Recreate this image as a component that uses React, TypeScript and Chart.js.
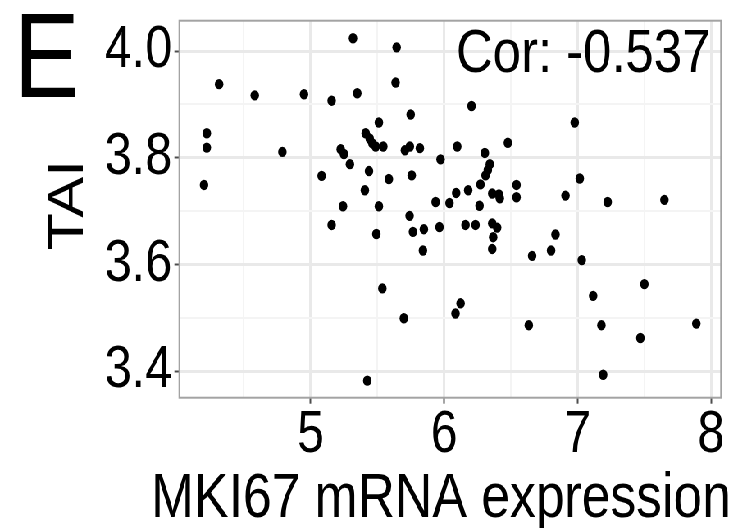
import React, { useEffect, useRef } from 'react';
import { Chart, registerables } from 'chart.js';

Chart.register(...registerables);

// The reference is horizontally condensed; draw wide, then squeeze with CSS.
const SX = 0.82;
const CW = Math.round(747 / SX);
const CH = 528;

const mki67: number[] = [
  5.317, 5.644, 4.314, 4.581, 4.950, 5.157, 5.349, 5.636, 5.749, 5.511,
  4.222, 4.222, 4.201, 4.788, 5.412, 5.442, 5.462, 5.487, 5.544, 5.225,
  5.249, 5.294, 5.706, 5.743, 5.818, 5.973, 5.082, 5.437, 5.586, 5.757,
  5.406, 5.242, 5.511, 5.936, 6.040, 5.157, 5.492, 5.741, 5.766, 5.848,
  5.965, 5.841, 5.537, 5.698, 5.424, 6.205, 6.978, 6.098, 6.305, 6.477,
  6.342, 6.327, 6.310, 7.016, 6.272, 6.542, 6.542, 6.180, 6.090, 6.360,
  6.410, 6.417, 6.909, 7.225, 7.650, 6.265, 6.160, 6.235, 6.360, 6.397,
  6.367, 6.360, 6.834, 6.801, 6.659, 7.031, 7.500, 7.116, 6.123, 6.085,
  6.634, 7.178, 7.889, 7.470, 7.191,
];

const tai: number[] = [
  4.024, 4.007, 3.938, 3.917, 3.919, 3.907, 3.921, 3.941, 3.881, 3.866,
  3.846, 3.819, 3.749, 3.811, 3.846, 3.836, 3.827, 3.821, 3.821, 3.816,
  3.807, 3.788, 3.814, 3.821, 3.818, 3.797, 3.766, 3.775, 3.760, 3.767,
  3.739, 3.709, 3.709, 3.717, 3.715, 3.674, 3.657, 3.691, 3.661, 3.666,
  3.670, 3.626, 3.555, 3.499, 3.382, 3.897, 3.866, 3.821, 3.809, 3.828,
  3.788, 3.777, 3.767, 3.761, 3.750, 3.749, 3.726, 3.739, 3.734, 3.733,
  3.731, 3.724, 3.729, 3.717, 3.721, 3.710, 3.674, 3.674, 3.677, 3.669,
  3.651, 3.629, 3.656, 3.626, 3.616, 3.608, 3.563, 3.541, 3.527, 3.508,
  3.486, 3.486, 3.489, 3.462, 3.393,
];

const xMajor: number[] = [5, 6, 7, 8];
const xMinor: number[] = [4.5, 5.5, 6.5, 7.5];
const yMajor: number[] = [3.4, 3.6, 3.8, 4.0];
const yMinor: number[] = [3.5, 3.7, 3.9];

const panelLabel = 'E';
const corLabel = 'Cor: -0.537';
const xTitle = 'MKI67 mRNA expression';
const yTitle = 'TAI';

const FONT = '"Liberation Sans", Arial, Helvetica, sans-serif';
const isIn = (arr: number[], v: number) => arr.some((a) => Math.abs(a - v) < 1e-6);

const annotPlugin = {
  id: 'annot',
  afterDatasetsDraw(chart: any) {
    const { ctx, chartArea: a } = chart;
    ctx.save();
    ctx.strokeStyle = '#a3a3a3';
    ctx.lineWidth = 2;
    ctx.strokeRect(a.left, a.top, a.right - a.left, a.bottom - a.top);
    ctx.restore();
  },
  afterDraw(chart: any) {
    const { ctx, chartArea: a } = chart;
    ctx.save();
    ctx.fillStyle = '#000';
    ctx.textBaseline = 'alphabetic';
    // panel letter
    ctx.font = `120px ${FONT}`;
    ctx.textAlign = 'left';
    ctx.fillText(panelLabel, 17, 96.7);
    // correlation annotation
    ctx.font = `62px ${FONT}`;
    ctx.textAlign = 'right';
    ctx.fillText(corLabel, a.right - 13, a.top + 51.5);
    // x axis title
    ctx.font = `63px ${FONT}`;
    ctx.textAlign = 'center';
    ctx.fillText(xTitle, 441 / SX, 517);
    // y axis title
    ctx.translate(69 / SX, 205);
    ctx.rotate(-Math.PI / 2);
    ctx.font = `61px ${FONT}`;
    ctx.textAlign = 'center';
    ctx.textBaseline = 'middle';
    ctx.fillText(yTitle, 0, 0);
    ctx.restore();
  },
};

export default function App() {
  const ref = useRef<HTMLCanvasElement | null>(null);

  useEffect(() => {
    if (!ref.current) return;
    const points = mki67.map((x, i) => ({ x, y: tai[i] }));
    const chart = new Chart(ref.current, {
      type: 'scatter',
      data: {
        datasets: [
          {
            data: points,
            pointRadius: 5.2,
            pointHoverRadius: 5.2,
            pointBackgroundColor: '#000',
            pointBorderColor: '#000',
            pointBorderWidth: 0,
          },
        ],
      },
      options: {
        animation: false,
        responsive: false,
        maintainAspectRatio: false,
        layout: { padding: { left: 0, top: 20.7, right: 31.7, bottom: 0 } },
        plugins: {
          legend: { display: false },
          tooltip: { enabled: false },
        },
        scales: {
          x: {
            type: 'linear',
            min: 4.016,
            max: 8.074,
            afterBuildTicks: (scale: any) => {
              scale.ticks = [...xMinor, ...xMajor]
                .sort((p, q) => p - q)
                .map((v) => ({ value: v }));
            },
            afterFit: (scale: any) => {
              scale.height = CH - 397.7;
              scale.paddingLeft = 0;
              scale.paddingRight = 0;
            },
            ticks: {
              autoSkip: false,
              maxRotation: 0,
              minRotation: 0,
              padding: 3,
              color: '#000',
              font: { family: FONT, size: 59, lineHeight: 1 },
              callback: (v: any) => (isIn(xMajor, Number(v)) ? String(v) : ''),
            },
            grid: {
              color: (c: any) => (isIn(xMajor, c.tick?.value) ? '#e9e9e9' : '#f4f4f4'),
              lineWidth: (c: any) => (isIn(xMajor, c.tick?.value) ? 3 : 2),
              tickColor: (c: any) => (isIn(xMajor, c.tick?.value) ? '#4d4d4d' : 'rgba(0,0,0,0)'),
              tickWidth: 2,
              tickLength: 6,
            },
            border: { display: false },
            title: { display: false },
          },
          y: {
            type: 'linear',
            min: 3.35,
            max: 4.057,
            afterBuildTicks: (scale: any) => {
              scale.ticks = [...yMinor, ...yMajor]
                .sort((p, q) => p - q)
                .map((v) => ({ value: v }));
            },
            afterFit: (scale: any) => {
              scale.width = 218.7;
              scale.paddingTop = 0;
              scale.paddingBottom = 0;
            },
            ticks: {
              autoSkip: false,
              padding: 3,
              color: '#000',
              font: { family: FONT, size: 59, lineHeight: 1 },
              callback: (v: any) => (isIn(yMajor, Number(v)) ? Number(v).toFixed(1) : ''),
            },
            grid: {
              color: (c: any) => (isIn(yMajor, c.tick?.value) ? '#e9e9e9' : '#f4f4f4'),
              lineWidth: (c: any) => (isIn(yMajor, c.tick?.value) ? 3 : 2),
              tickColor: (c: any) => (isIn(yMajor, c.tick?.value) ? '#4d4d4d' : 'rgba(0,0,0,0)'),
              tickWidth: 2,
              tickLength: 6,
            },
            border: { display: false },
            title: { display: false },
          },
        },
      },
      plugins: [annotPlugin],
    });
    return () => chart.destroy();
  }, []);

  return (
    <div
      style={{
        position: 'fixed',
        left: 0,
        top: 0,
        width: CW,
        height: CH,
        transform: `scaleX(${747 / CW})`,
        transformOrigin: '0 0',
        background: '#fff',
      }}
    >
      <canvas
        ref={ref}
        width={CW}
        height={CH}
        style={{ display: 'block', width: CW, height: CH }}
      />
    </div>
  );
}
